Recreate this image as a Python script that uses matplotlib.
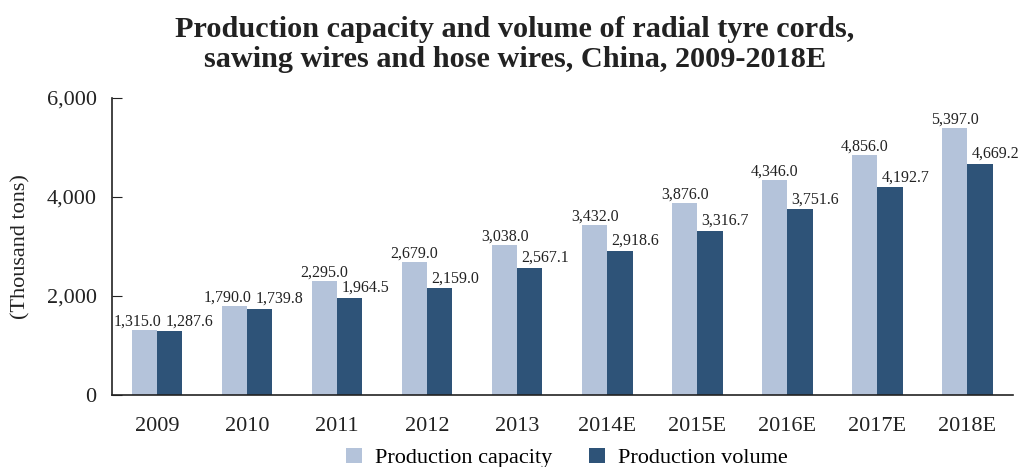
import matplotlib
matplotlib.use("Agg")
import matplotlib.pyplot as plt
import numpy as np

categories = ["2009", "2010", "2011", "2012", "2013", "2014E", "2015E", "2016E", "2017E", "2018E"]
capacity = [1315.0, 1790.0, 2295.0, 2679.0, 3038.0, 3432.0, 3876.0, 4346.0, 4856.0, 5397.0]
volume = [1287.6, 1739.8, 1964.5, 2159.0, 2567.1, 2918.6, 3316.7, 3751.6, 4192.7, 4669.2]
yticks = [0, 2000, 4000, 6000]

plt.rcParams['font.family'] = ['Liberation Serif', 'DejaVu Serif']

fig = plt.figure(figsize=(10.21, 4.67), dpi=100)
ax = fig.add_axes([0.1097, 0.1542, 0.882, 0.636])

x = np.arange(len(categories))
w = 0.28
c1 = "#b4c3da"
c2 = "#2e5378"
b1 = ax.bar(x - w/2, capacity, w, color=c1, label="Production capacity")
b2 = ax.bar(x + w/2, volume, w, color=c2, label="Production volume")

for xi, cv, vv in zip(x, capacity, volume):
    close = abs(cv - vv) < 300
    off_c = -0.08 if close else 0.0
    off_v = 0.22 if close else 0.17
    ax.text(xi - w/2 + off_c, cv + 90, f"{cv:,.1f}", ha="center", va="baseline", fontsize=11.5, color="#222222")
    ax.text(xi + w/2 + off_v, vv + 120, f"{vv:,.1f}", ha="center", va="baseline", fontsize=11.5, color="#222222")

ax.set_xlim(-0.5, len(categories) - 0.5)
ax.set_ylim(0, 6000)
ax.set_yticks(yticks)
ax.set_yticklabels([f"{t:,}" for t in yticks])
ax.set_xticks(x)
ax.set_xticklabels(categories)
ax.tick_params(axis="y", direction="in", length=7, labelsize=16, pad=11, colors="#222222")
ax.tick_params(axis="x", length=0, labelsize=16, pad=16, colors="#222222")
for s in ["top", "right"]:
    ax.spines[s].set_visible(False)
for s in ["left", "bottom"]:
    ax.spines[s].set_color("#222222")
    ax.spines[s].set_linewidth(1.2)

ax.set_ylabel("(Thousand tons)", fontsize=16, labelpad=12, color="#222222")

fig.text(0.504, 0.905, "Production capacity and volume of radial tyre cords,\nsawing wires and hose wires, China, 2009-2018E",
         ha="center", va="center", fontsize=21.8, fontweight="bold", linespacing=1.12, color="#222222")

fig.legend(handles=[b1, b2], loc="center", bbox_to_anchor=(0.5555, 0.019), ncol=2, frameon=False,
           fontsize=16, handlelength=0.7, handleheight=0.7, columnspacing=1.65, handletextpad=0.6,
           borderpad=0.0)

fig.savefig("out.png", dpi=100)
